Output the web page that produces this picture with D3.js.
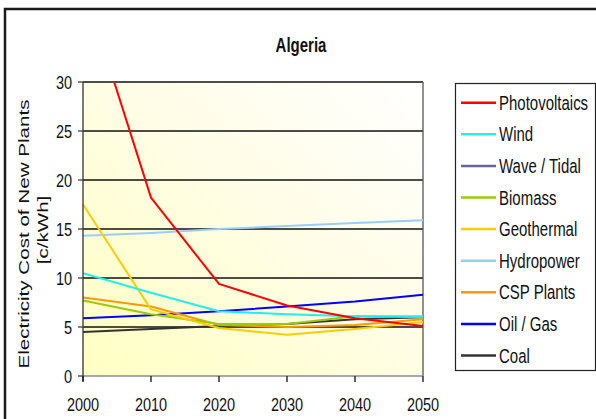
<!DOCTYPE html>
<html><head><meta charset="utf-8">
<script src="https://cdn.jsdelivr.net/npm/d3@7"></script>
<style>
html,body{margin:0;padding:0;background:#fff;}
svg{display:block;font-family:"Liberation Sans",Arial,sans-serif;}
</style></head><body>
<svg id="c" width="596" height="419"></svg>
<script>
const years = [2000, 2010, 2020, 2030, 2040, 2050];
const yTicks = [0, 5, 10, 15, 20, 25, 30];
const seriesNames = ["Photovoltaics","Wind","Wave / Tidal","Biomass","Geothermal","Hydropower","CSP Plants","Oil / Gas","Coal"];
const seriesColors = ["#ff0000","#22eeee","#666699","#99cc00","#ffcc00","#99ccff","#ff9900","#0000ff","#333333"];
const photovoltaics = [40.0, 18.2, 9.4, 7.2, 5.9, 5.1];
const wind          = [10.5, 8.5, 6.6, 6.3, 6.1, 6.1];
const waveTidal     = [];
const biomass       = [7.7, 6.3, 5.3, 5.3, 6.1, 6.0];
const geothermal    = [17.5, 6.8, 4.9, 4.2, 4.8, 5.5];
const hydropower    = [14.3, 14.6, 15.0, 15.3, 15.6, 15.9];
const cspPlants     = [8.0, 7.1, 5.2, 5.0, 5.2, 5.8];
const oilGas        = [5.9, 6.2, 6.6, 7.1, 7.6, 8.3];
const coal          = [4.5, 4.8, 5.1, 5.3, 5.8, 6.0];
const seriesValues = [photovoltaics, wind, waveTidal, biomass, geothermal, hydropower, cspPlants, oilGas, coal];

const svg = d3.select("#c");
const SY = 1.3; // vertical stretch of text seen in reference
const x = d3.scaleLinear().domain([2000, 2050]).range([83, 423]);
const y = d3.scaleLinear().domain([0, 30]).range([376, 82]);

// outer frame
svg.append("rect").attr("x", 5).attr("y", 9).attr("width", 620).attr("height", 440)
  .attr("fill", "#fff").attr("stroke", "#1a1a1a").attr("stroke-width", 2.5);

function txt(px, py, s, opts) {
  const g = svg.append("g").attr("transform", `translate(${px},${py}) scale(1,${SY})`);
  const t = g.append("text").text(s).attr("font-size", opts.size || 15)
    .attr("text-anchor", opts.anchor || "start").attr("fill", "#111");
  if (opts.bold) t.attr("font-weight", "bold");
  if (opts.dy) t.attr("dy", opts.dy);
  return t;
}

// title
txt(301, 45, "Algeria", {size: 15, bold: true, anchor: "middle", dy: "0.36em"});

// plot background gradient
const defs = svg.append("defs");
const grad = defs.append("linearGradient").attr("id", "bg")
  .attr("x1", "0%").attr("y1", "100%").attr("x2", "100%").attr("y2", "0%");
grad.append("stop").attr("offset", "0%").attr("stop-color", "#ffffc2");
grad.append("stop").attr("offset", "55%").attr("stop-color", "#fffde6");
grad.append("stop").attr("offset", "100%").attr("stop-color", "#ffffff");
defs.append("clipPath").attr("id", "clip").append("rect")
  .attr("x", x(2000)).attr("y", y(30)).attr("width", x(2050) - x(2000)).attr("height", y(0) - y(30));

svg.append("rect").attr("x", x(2000)).attr("y", y(30))
  .attr("width", x(2050) - x(2000)).attr("height", y(0) - y(30)).attr("fill", "url(#bg)");

// gridlines
svg.append("g").selectAll("line").data(yTicks.filter(d => d > 0)).join("line")
  .attr("x1", x(2000)).attr("x2", x(2050)).attr("y1", d => y(d)).attr("y2", d => y(d))
  .attr("stroke", "#111").attr("stroke-width", 1.3);

// plot border right
svg.append("line").attr("x1", x(2050)).attr("x2", x(2050)).attr("y1", y(30)).attr("y2", y(0))
  .attr("stroke", "#555").attr("stroke-width", 1.3);

// lines
const lineGen = d3.line().x((d, i) => x(years[i])).y(d => y(d));
const lg = svg.append("g").attr("clip-path", "url(#clip)");
const order = [5, 8, 7, 6, 3, 4, 1, 0, 2];
order.forEach(k => {
  if (!seriesValues[k].length) return;
  lg.append("path").datum(seriesValues[k]).attr("d", lineGen)
    .attr("fill", "none").attr("stroke", seriesColors[k]).attr("stroke-width", 2)
    .attr("stroke-linejoin", "round");
});

// axes
svg.append("line").attr("x1", x(2000)).attr("x2", x(2050)).attr("y1", y(0)).attr("y2", y(0))
  .attr("stroke", "#8888aa").attr("stroke-width", 1.3);
svg.append("line").attr("x1", x(2000)).attr("x2", x(2000)).attr("y1", y(30)).attr("y2", y(0) + 5)
  .attr("stroke", "#333").attr("stroke-width", 1.3);
svg.append("g").selectAll("line").data(yTicks).join("line")
  .attr("x1", x(2000) - 5).attr("x2", x(2000)).attr("y1", d => y(d)).attr("y2", d => y(d))
  .attr("stroke", "#333").attr("stroke-width", 1.2);
svg.append("g").selectAll("line").data(years).join("line")
  .attr("x1", d => x(d)).attr("x2", d => x(d)).attr("y1", y(0)).attr("y2", y(0) + 6)
  .attr("stroke", "#111").attr("stroke-width", 1.3);

yTicks.forEach(v => txt(72, y(v), String(v), {size: 14.5, anchor: "end", dy: "0.36em"}));
years.forEach(v => txt(x(v), 404, String(v), {size: 14.5, anchor: "middle", dy: "0.36em"}));

// y axis title
function vtxt(px, py, s) {
  svg.append("g").attr("transform", `translate(${px},${py}) scale(1,${SY + 0.03}) rotate(-90)`)
    .append("text").text(s).attr("font-size", 15.5).attr("text-anchor", "middle")
    .attr("dy", "0.36em").attr("fill", "#111");
}
vtxt(23, 234, "Electricity Cost of New Plants");
vtxt(42, 230, "[c/kWh]");

// legend
svg.append("rect").attr("x", 455.5).attr("y", 83.5).attr("width", 140).attr("height", 287)
  .attr("fill", "#fff").attr("stroke", "#222").attr("stroke-width", 1.2);
seriesNames.forEach((n, i) => {
  const cy = 102.7 + i * 31.6;
  svg.append("line").attr("x1", 461).attr("x2", 496).attr("y1", cy).attr("y2", cy)
    .attr("stroke", seriesColors[i]).attr("stroke-width", 2.5);
  txt(499, cy, n, {size: 15, dy: "0.36em"});
});
</script>
</body></html>
